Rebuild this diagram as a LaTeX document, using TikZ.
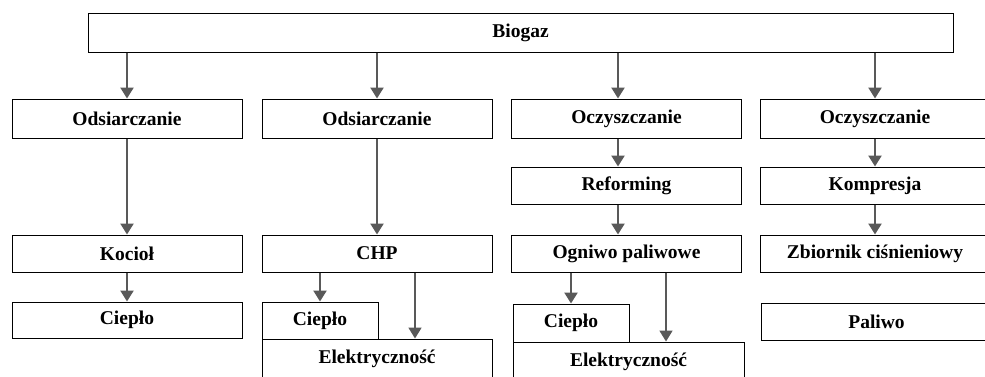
\documentclass[tikz,border=0pt]{standalone}
\usepackage{fontspec}
\setmainfont{Liberation Serif}
\usepackage{xcolor}
\usetikzlibrary{arrows.meta, positioning, calc}
\definecolor{arrgray}{HTML}{595959}

\begin{document}
\begin{tikzpicture}[x=1pt,y=-1pt,
  box/.style={draw, line width=1pt, minimum height=37pt, minimum width=230pt,
    inner sep=0pt, font=\fontsize{19.5}{22}\selectfont\bfseries},
  arr/.style={draw=arrgray, line width=2.4pt, -{Triangle[width=13pt,length=11pt]}}]
  % Frame of the picture
  \useasboundingbox (0,0) rectangle (985,376);
  \clip (0,0) rectangle (985,376);

  % Top box
  \node[box, minimum width=865pt, minimum height=39pt] (bio) at (520.5,32.5) {Biogaz};

  % First row
  \node[box, minimum height=39pt] (o1) at (127,118.5) {Odsiarczanie};
  \node[box, minimum height=39pt] (o2) at (377,118.5) {Odsiarczanie};
  \node[box, minimum height=39pt] (o3) at (626.5,118.5) {Oczyszczanie};
  \node[box, minimum height=39pt] (o4) at (875,118.5) {Oczyszczanie};

  % Second row
  \node[box] (r3) at (626.5,185.5) {Reforming};
  \node[box] (k4) at (875,185.5) {Kompresja};

  % Third row
  \node[box] (k1) at (127,253.5) {Kocioł};
  \node[box] (chp) at (377,253.5) {CHP};
  \node[box] (og) at (626.5,253.5) {Ogniwo paliwowe};
  \node[box] (zb) at (875,253.5) {Zbiornik ciśnieniowy};

  % Outputs
  \node[box, minimum height=36pt] (c1) at (127,320) {Ciepło};
  \node[box, minimum width=116pt] (c2) at (320,320.5) {Ciepło};
  \node[box, minimum width=116pt, minimum height=38pt] (c3) at (571,323) {Ciepło};
  \node[box] (pal) at (876.5,321.5) {Paliwo};
  \node[box, minimum height=40pt] (e2) at (377,359) {Elektryczność};
  \node[box, minimum height=40pt, minimum width=231pt] (e3) at (628.5,362) {Elektryczność};

  % Arrows from the top box
  \coordinate (ax3) at ([xshift=-8.5pt]o3.north);
  \draw[arr] (bio.south -| o1.north) -- (o1.north);
  \draw[arr] (bio.south -| o2.north) -- (o2.north);
  \draw[arr] (bio.south -| ax3) -- (ax3);
  \draw[arr] (bio.south -| o4.north) -- (o4.north);

  % Arrows down the columns
  \draw[arr] (o1) -- (k1);
  \draw[arr] (k1) -- (c1);
  \draw[arr] (o2) -- (chp);
  \draw[arr] ([xshift=-8.5pt]o3.south) -- ([xshift=-8.5pt]r3.north);
  \draw[arr] ([xshift=-8.5pt]r3.south) -- ([xshift=-8.5pt]og.north);
  \draw[arr] (o4) -- (k4);
  \draw[arr] (k4) -- (zb);

  % Heat and electricity outputs
  \draw[arr] (chp.south -| c2.north) -- (c2.north);
  \draw[arr, line width=1.8pt] ([xshift=38pt]chp.south) -- ([xshift=38pt]chp.south |- e2.north);
  \draw[arr] (og.south -| c3.north) -- (c3.north);
  \draw[arr, line width=1.8pt] ([xshift=39.5pt]og.south) -- ([xshift=39.5pt]og.south |- e3.north);
\end{tikzpicture}
\end{document}
